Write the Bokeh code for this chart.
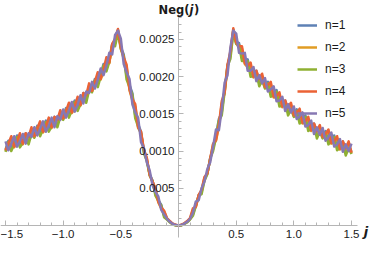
import numpy as np
from bokeh.plotting import figure
from bokeh.models import Range1d, FixedTicker, Label, Legend, LegendItem
from bokeh.embed import file_html
from bokeh.resources import INLINE

# ---- data (Neg values in units of 1e-4) ----
j_values = np.linspace(-1.5, 1.5, 121)
NEG_UNIT = 1e-4

neg_n1 = [10.2,11.4,10.4,11.2,12.1,10.9,11.4,12.4,11.3,12.6,
          12.1,13.4,12.4,13.2,14.1,13.0,13.6,14.6,13.6,14.9,
          14.5,15.8,14.9,15.8,16.8,15.8,16.6,17.8,16.9,18.5,
          18.2,19.7,19.0,20.3,21.7,21.1,22.3,24.4,24.5,26.2,
          24.0,23.0,20.0,18.9,17.8,14.8,13.6,12.6,9.9,8.8,
          6.9,6.0,4.3,3.4,2.8,1.3,0.9,0.5,0.2,0.05,
          0.0,0.05,0.25,0.5,0.9,1.5,2.7,4.1,4.5,6.2,
          7.0,9.1,10.3,12.1,14.3,15.2,18.3,21.6,22.8,26.2,
          24.7,24.5,22.5,22.4,22.3,20.4,20.4,20.8,19.1,19.8,
          18.7,19.3,17.7,17.9,18.2,16.4,16.4,16.8,15.2,15.9,
          14.9,15.6,14.1,14.4,14.8,13.1,13.2,13.7,12.1,12.9,
          12.0,12.7,11.3,11.7,12.1,10.5,10.7,11.3,9.8,10.7,
          9.9]
neg_n2 = [10.0,10.8,11.7,10.5,11.1,12.1,10.9,12.2,11.7,12.9,
          11.9,12.8,13.7,12.5,13.1,14.2,13.1,14.4,14.0,15.2,
          14.3,15.2,16.2,15.1,15.8,17.0,16.1,17.6,17.3,18.8,
          18.0,19.1,20.3,19.6,20.7,22.3,21.8,24.2,24.9,26.3,
          23.8,22.4,21.3,18.2,16.8,16.0,13.1,12.4,10.1,9.0,
          6.8,5.8,4.9,3.1,2.3,1.9,0.9,0.5,0.2,0.05,
          0.0,0.05,0.25,0.5,0.9,2.1,2.5,4.0,4.7,6.4,
          7.0,8.9,10.9,11.4,13.3,16.4,17.8,21.4,23.2,26.3,
          24.5,23.9,23.8,21.7,21.3,21.6,19.9,20.6,19.5,20.1,
          18.5,18.7,19.0,17.2,17.2,17.6,15.9,16.6,15.6,16.2,
          14.7,15.0,15.4,13.7,13.8,14.3,12.7,13.5,12.5,13.2,
          11.8,12.1,12.6,11.0,11.1,11.7,10.2,11.1,10.2,11.0,
          9.7]
neg_n3 = [9.9,11.2,10.0,10.9,11.9,10.5,11.1,12.2,10.9,12.3,
          11.8,13.2,12.0,12.9,13.9,12.6,13.3,14.4,13.2,14.6,
          14.2,15.6,14.5,15.5,16.6,15.4,16.3,17.6,16.5,18.2,
          17.9,19.5,18.6,20.0,21.5,20.7,22.0,24.2,24.1,25.9,
          23.7,22.8,19.6,18.6,17.6,14.4,13.3,12.4,9.7,8.7,
          6.7,6.0,4.0,3.3,2.7,1.1,0.8,0.4,0.15,0.0,
          0.0,0.0,0.2,0.4,0.8,1.3,2.6,4.0,4.2,6.0,
          6.9,9.0,10.0,11.8,14.1,14.8,18.0,21.4,22.4,25.9,
          24.4,24.3,22.1,22.1,22.1,20.0,20.1,20.6,18.7,19.5,
          18.4,19.1,17.3,17.6,18.0,16.0,16.1,16.6,14.8,15.6,
          14.6,15.4,13.7,14.1,14.6,12.7,12.9,13.5,11.7,12.6,
          11.7,12.5,10.9,11.4,11.9,10.1,10.4,11.1,9.4,10.4,
          9.6]
neg_n4 = [10.1,11.0,12.0,10.6,11.3,12.4,11.0,12.4,11.9,13.2,
          12.0,13.0,14.0,12.6,13.3,14.5,13.2,14.6,14.2,15.5,
          14.4,15.4,16.5,15.2,16.0,17.3,16.2,17.8,17.5,19.1,
          18.1,19.3,20.6,19.7,20.9,22.6,21.9,24.4,25.1,26.4,
          23.9,22.6,21.6,18.3,17.0,16.3,13.2,12.6,10.2,9.1,
          6.8,5.9,5.0,3.2,2.4,2.0,1.0,0.6,0.25,0.1,
          0.0,0.1,0.3,0.6,1.0,2.3,2.5,4.1,4.8,6.5,
          7.0,9.0,11.0,11.5,13.5,16.7,17.9,21.6,23.4,26.5,
          24.6,24.1,24.1,21.8,21.5,21.9,20.0,20.8,19.7,20.4,
          18.6,18.9,19.3,17.3,17.4,17.9,16.0,16.8,15.8,16.5,
          14.8,15.2,15.7,13.8,14.0,14.6,12.8,13.7,12.7,13.5,
          11.9,12.3,12.9,11.1,11.3,12.0,10.3,11.3,10.4,11.3,
          9.8]
neg_n5 = [11.3,10.1,11.0,12.0,10.6,11.3,12.3,11.0,12.4,11.9,
          13.2,12.1,13.0,14.0,12.6,13.4,14.5,13.2,14.7,14.2,
          15.6,14.5,15.5,16.6,15.3,16.2,17.5,16.4,18.0,17.8,
          19.3,18.4,19.6,21.1,20.2,21.5,23.2,23.0,25.6,26.2,
          25.1,21.7,20.6,19.7,16.3,15.2,14.5,11.2,10.4,8.5,
          7.4,5.4,4.5,3.9,2.1,1.5,0.9,0.5,0.2,0.05,
          0.0,0.05,0.25,0.5,0.9,1.7,3.2,3.4,5.0,5.9,
          7.6,8.5,10.6,12.9,12.8,15.6,19.2,20.2,23.9,26.2,
          25.8,23.2,23.1,23.2,20.8,20.8,21.3,19.4,20.2,19.1,
          19.8,18.0,18.3,18.7,16.7,16.8,17.3,15.4,16.3,15.2,
          16.0,14.3,14.7,15.2,13.3,13.5,14.1,12.3,13.2,12.2,
          13.1,11.4,11.9,12.5,10.6,10.9,11.6,9.9,10.9,10.0,
          11.0]

series_labels = ["n=1", "n=2", "n=3", "n=4", "n=5"]
series_values = [neg_n1, neg_n2, neg_n3, neg_n4, neg_n5]
series_colors = ["#5E81B5", "#E19C24", "#8FB032", "#EB6235", "#8778B3"]

x_ticks = [-1.5, -1.0, -0.5, 0.5, 1.0, 1.5]
x_tick_labels = ["\u22121.5", "\u22121.0", "\u22120.5", "0.5", "1.0", "1.5"]
y_ticks = [0.0005, 0.0010, 0.0015, 0.0020, 0.0025]
y_tick_labels = ["0.0005", "0.0010", "0.0015", "0.0020", "0.0025"]

# ---- figure ----
X0, X1 = -1.5434, 1.682
Y0, Y1 = -0.000296, 0.003024
p = figure(width=372, height=247, output_backend="svg", toolbar_location=None,
           x_range=Range1d(X0, X1), y_range=Range1d(Y0, Y1), min_border=0)
p.title.visible = False
p.outline_line_color = None
p.xgrid.visible = False
p.ygrid.visible = False
p.background_fill_color = "white"

renderers = []
for lab, vals, col in zip(series_labels, series_values, series_colors):
    ys = [v * NEG_UNIT for v in vals]
    r = p.line(j_values, ys, line_color=col, line_width=2.5, line_join="round")
    renderers.append(r)

axis_col = "#b5b5b5"
lab_col = "#1a1a1a"
x_minor = [round(v, 2) for v in np.arange(-1.5, 1.5001, 0.1) if all(abs(v - t) > 1e-6 for t in x_ticks + [0.0])]
y_minor = [round(v, 6) for v in np.arange(0.0001, 0.00281, 0.0001) if all(abs(v - t) > 1e-9 for t in y_ticks)]

for ax, ticks, labels, minor in ((p.xaxis[0], x_ticks, x_tick_labels, x_minor),
                                 (p.yaxis[0], y_ticks, y_tick_labels, y_minor)):
    ax.ticker = FixedTicker(ticks=ticks, minor_ticks=minor)
    ax.major_label_overrides = {t: l for t, l in zip(ticks, labels)}
    ax.fixed_location = 0
    ax.axis_line_color = axis_col
    ax.major_tick_line_color = axis_col
    ax.minor_tick_line_color = axis_col
    ax.major_tick_in = 5
    ax.major_tick_out = 0
    ax.minor_tick_in = 3
    ax.minor_tick_out = 0
    ax.major_label_text_font = "Liberation Sans"
    ax.major_label_text_font_size = "11.5px"
    ax.major_label_text_color = lab_col

p.xaxis[0].bounds = (X0, 1.552)
p.yaxis[0].bounds = (-0.00016, 0.00284)
p.xaxis[0].major_label_standoff = 5
p.yaxis[0].major_label_standoff = 4

# title "Neg(j)" with italic j
tfs = "11.5px"
ty = 0.002903
p.add_layout(Label(x=0, y=ty, x_offset=-20, text="Neg(", text_font="DejaVu Sans",
                   text_font_style="bold", text_font_size=tfs, text_color=lab_col,
                   text_baseline="alphabetic", text_align="left"))
p.add_layout(Label(x=0, y=ty, x_offset=11, text="j", text_font="DejaVu Sans",
                   text_font_style="bold italic", text_font_size=tfs, text_color=lab_col,
                   text_baseline="alphabetic", text_align="left"))
p.add_layout(Label(x=0, y=ty, x_offset=15.5, text=")", text_font="DejaVu Sans",
                   text_font_style="bold", text_font_size=tfs, text_color=lab_col,
                   text_baseline="alphabetic", text_align="left"))
# x-axis label
p.add_layout(Label(x=1.607, y=0, y_offset=-6, text="j", text_font="DejaVu Sans",
                   text_font_style="bold italic", text_font_size="13px", text_color=lab_col,
                   text_baseline="alphabetic", text_align="left"))

legend = Legend(items=[LegendItem(label=l, renderers=[r]) for l, r in zip(series_labels, renderers)],
                location=(297, 127), orientation="vertical",
                glyph_width=20, glyph_height=14, label_height=14, label_standoff=8,
                spacing=8, padding=0, margin=0, border_line_color=None,
                background_fill_alpha=0, label_text_font="Liberation Sans",
                label_text_font_size="12px", label_text_color=lab_col)
p.add_layout(legend)

open("out.html", "w").write(file_html(p, INLINE))
